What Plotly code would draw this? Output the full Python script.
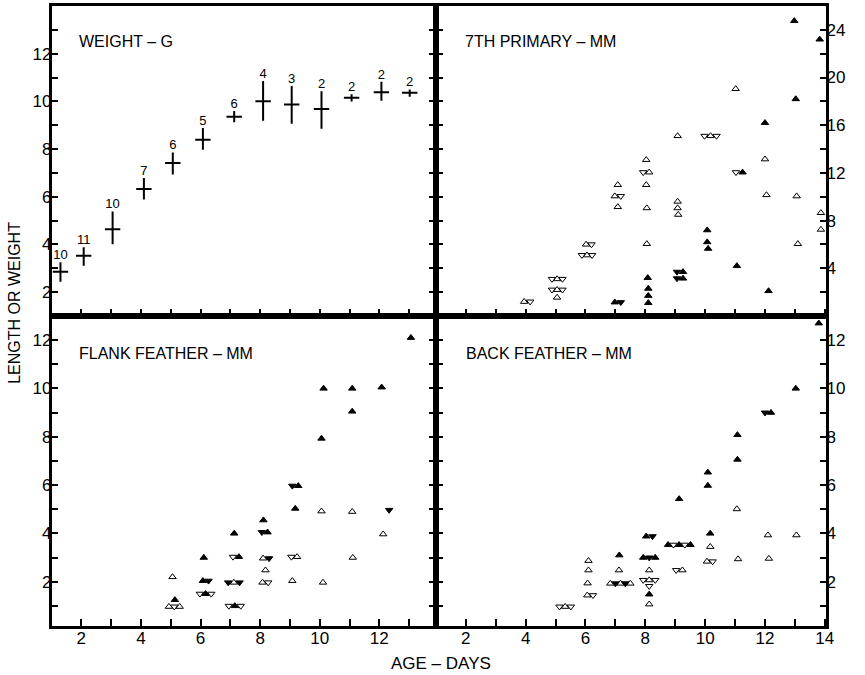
import plotly.graph_objects as go

# ---------------- DATA ----------------
# Weight (g): mean, range (high/low) and sample size per age (days)
weight_day = [1.3, 2.08, 3.05, 4.1, 5.07, 6.08, 7.13, 8.1, 9.06, 10.06, 11.07, 12.07, 13.02]
weight_mean = [2.86, 3.53, 4.64, 6.33, 7.42, 8.39, 9.36, 10.01, 9.87, 9.68, 10.15, 10.38, 10.36]
weight_high = [3.25, 3.88, 5.38, 6.79, 7.86, 8.88, 9.60, 10.85, 10.64, 10.43, 10.30, 10.82, 10.50]
weight_low = [2.44, 3.11, 4.01, 5.89, 6.93, 7.97, 9.13, 9.19, 9.06, 8.85, 9.99, 10.03, 10.19]
weight_n = [10, 11, 10, 7, 6, 5, 6, 4, 3, 2, 2, 2, 2]

# marks: ou = open up, od = open down, fu = filled up, fd = filled down
primary_day = [3.95, 4.15, 4.88, 5.05, 5.23, 4.88, 5.05, 5.23, 5.05,
               6.02, 6.2, 5.88, 6.05, 6.22,
               7.08, 6.98, 7.18, 7.08, 6.98, 7.18,
               8.03, 7.93, 8.13, 8.03, 8.05, 8.05, 8.08, 8.1, 8.1, 8.1,
               9.08, 9.08, 9.08, 9.1, 9.06, 9.26, 9.06, 9.26,
               9.98, 10.18, 10.38, 10.07, 10.07, 10.1,
               11.02, 11.03, 11.25, 11.06,
               12.0, 12.0, 12.05, 12.12,
               12.98, 13.03, 13.06, 13.1,
               13.83, 13.87, 13.87]
primary_mm = [1.2, 1.2, 3.1, 3.1, 3.1, 2.2, 2.2, 2.2, 1.55,
              6.0, 6.0, 5.1, 5.1, 5.1,
              11.0, 10.05, 10.05, 9.15, 1.15, 1.15,
              13.1, 12.05, 12.05, 11.0, 9.05, 6.05, 3.2, 2.3, 1.7, 1.1,
              15.1, 9.6, 9.05, 8.5, 3.7, 3.7, 3.15, 3.15,
              15.1, 15.1, 15.1, 7.2, 6.2, 5.65,
              19.05, 12.05, 12.05, 4.2,
              16.2, 13.15, 10.15, 2.1,
              24.75, 18.2, 10.05, 6.05,
              23.2, 8.65, 7.25]
primary_mark = ["ou", "od", "od", "ou", "od", "od", "ou", "od", "ou",
                "ou", "od", "od", "ou", "od",
                "ou", "ou", "od", "ou", "fu", "fd",
                "ou", "od", "ou", "ou", "ou", "ou", "fu", "fu", "fu", "fu",
                "ou", "ou", "ou", "ou", "fd", "fu", "fd", "fu",
                "od", "ou", "od", "fu", "fu", "fu",
                "ou", "od", "fu", "fu",
                "fu", "ou", "ou", "fu",
                "fu", "fu", "ou", "ou",
                "fu", "ou", "ou"]

flank_day = [5.06, 5.14, 4.94, 5.12, 5.3,
             6.11, 6.08, 6.27, 5.98, 6.17, 6.36,
             7.13, 7.09, 7.29, 6.93, 7.12, 7.31, 6.95, 7.15, 7.35,
             8.11, 8.06, 8.25, 8.1, 8.3, 8.18, 8.08, 8.27,
             9.08, 9.28, 9.18, 9.05, 9.24, 9.08,
             10.13, 10.06, 10.06, 10.11,
             11.09, 11.09, 11.09, 11.11,
             12.08, 12.33, 12.13,
             13.06]
flank_mm = [2.2, 1.25, 0.97, 0.97, 0.97,
            3.0, 2.04, 2.04, 1.5, 1.5, 1.5,
            4.0, 3.03, 3.03, 1.97, 1.97, 1.97, 1.0, 1.0, 1.0,
            4.55, 4.05, 4.05, 2.97, 2.97, 2.48, 1.97, 1.97,
            5.97, 5.97, 5.03, 3.03, 3.03, 2.04,
            10.0, 7.93, 4.92, 1.97,
            10.0, 9.05, 4.9, 3.0,
            10.05, 4.97, 3.97,
            12.1]
flank_mark = ["ou", "fu", "ou", "od", "ou",
              "fu", "fu", "fd", "od", "fu", "od",
              "fu", "od", "fu", "fd", "ou", "fd", "od", "fu", "od",
              "fu", "fd", "fu", "ou", "fd", "ou", "ou", "od",
              "fd", "fu", "fu", "od", "ou", "ou",
              "fu", "fu", "ou", "ou",
              "fu", "fu", "ou", "ou",
              "fu", "fd", "ou",
              "fu"]

back_day = [5.13, 5.32, 5.51,
            6.1, 6.1, 6.07, 6.06, 6.25,
            7.13, 7.12, 6.83, 7.0, 7.17, 7.33, 7.5,
            8.03, 8.24, 7.93, 8.13, 8.33, 8.13, 7.93, 8.13, 8.33, 8.13, 8.13, 8.13,
            8.76, 8.94, 9.13, 9.32, 9.51, 9.13, 9.03, 9.24,
            10.09, 10.09, 10.17, 10.17, 10.06, 10.25,
            11.08, 11.08, 11.06, 11.1,
            12.0, 12.2, 12.1, 12.13,
            13.03, 13.05,
            13.8]
back_mm = [0.97, 0.97, 0.97,
           2.87, 2.48, 1.94, 1.44, 1.44,
           3.1, 2.48, 1.93, 1.93, 1.93, 1.93, 1.93,
           3.88, 3.88, 3.0, 3.0, 3.0, 2.48, 2.07, 2.07, 2.07, 1.82, 1.48, 1.07,
           3.53, 3.53, 3.53, 3.53, 3.53, 5.43, 2.48, 2.48,
           6.53, 5.98, 4.0, 3.45, 2.84, 2.84,
           8.08, 7.06, 5.01, 2.94,
           9.0, 9.0, 3.93, 2.96,
           10.0, 3.93,
           12.7]
back_mark = ["od", "ou", "od",
             "ou", "ou", "ou", "ou", "od",
             "fu", "ou", "ou", "fd", "ou", "fd", "ou",
             "fu", "fd", "fu", "fd", "fu", "ou", "od", "ou", "od", "od", "fu", "ou",
             "fu", "od", "fu", "od", "fu", "fu", "od", "ou",
             "fu", "fu", "fu", "ou", "ou", "od",
             "fu", "fu", "ou", "ou",
             "fd", "fu", "ou", "ou",
             "fu", "ou",
             "fu"]

panel_titles = ["WEIGHT – G", "7TH PRIMARY – MM", "FLANK FEATHER – MM", "BACK FEATHER – MM"]

# ---------------- FIGURE ----------------
W, H = 865, 675
FONT = "Liberation Sans"
fig = go.Figure()

SYMBOLS = {"ou": "triangle-up-open", "od": "triangle-down-open",
           "fu": "triangle-up", "fd": "triangle-down"}


def add_marks(days, vals, marks, xa, ya):
    for code, sym in SYMBOLS.items():
        xs = [d for d, m in zip(days, marks) if m == code]
        ys = [v for v, m in zip(vals, marks) if m == code]
        if not xs:
            continue
        fig.add_trace(go.Scatter(
            x=xs, y=ys, mode="markers", xaxis=xa, yaxis=ya, showlegend=False,
            marker=dict(symbol=sym, size=6.5, color="black",
                        line=dict(color="black", width=1)),
            hoverinfo="x+y"))


# weight crosses
fig.add_trace(go.Scatter(
    x=weight_day, y=weight_mean, mode="markers", xaxis="x", yaxis="y",
    showlegend=False,
    marker=dict(symbol="line-ew", size=11, color="black",
                line=dict(color="black", width=2)),
    error_y=dict(type="data", symmetric=False,
                 array=[h - m for h, m in zip(weight_high, weight_mean)],
                 arrayminus=[m - l for m, l in zip(weight_mean, weight_low)],
                 thickness=2, width=0, color="black")))
fig.add_trace(go.Scatter(
    x=weight_day, y=weight_high, mode="text", xaxis="x", yaxis="y",
    text=[str(n) for n in weight_n], textposition="top center",
    textfont=dict(family=FONT, size=13, color="black"),
    showlegend=False, hoverinfo="skip"))

add_marks(primary_day, primary_mm, primary_mark, "x2", "y2")
add_marks(flank_day, flank_mm, flank_mark, "x3", "y3")
add_marks(back_day, back_mm, back_mark, "x4", "y4")

xl = [52 / W, 440 / W]
xr = [440 / W, 834 / W]
yt = [1 - 316 / H, 1 - 6 / H]
yb = [1 - 626 / H, 1 - 316 / H]

base = dict(showline=True, linecolor="black", linewidth=2.5, ticks="inside",
            ticklen=7, tickwidth=2, tickcolor="black", showgrid=False,
            zeroline=False, tickfont=dict(family=FONT, size=17, color="black"))


def lab(vals, step):
    return [str(v) if v % step == 0 else "" for v in vals]


xt_left = list(range(2, 14))
xt_right = list(range(2, 15))
yw = list(range(2, 14))
yp = list(range(2, 26, 2))
yf = list(range(1, 13))

ystand = dict(ticklabelstandoff=-6)
xstand = dict(ticklabelstandoff=-5)

fig.update_layout(
    width=W, height=H, margin=dict(l=0, r=0, t=0, b=0),
    paper_bgcolor="white", plot_bgcolor="white", showlegend=False,
    xaxis=dict(base, domain=xl, anchor="y", range=[1, 13.9], mirror=True,
               tickvals=xt_left, showticklabels=False),
    yaxis=dict(base, **ystand, domain=yt, anchor="x", range=[1, 14], mirror="ticks",
               tickvals=yw, ticktext=lab(yw, 2)),
    xaxis2=dict(base, domain=xr, anchor="y2", range=[1, 14.05], mirror=True,
                tickvals=xt_right, showticklabels=False),
    yaxis2=dict(base, **ystand, domain=yt, anchor="x2", side="right", range=[0, 26],
                mirror="ticks", tickvals=yp, ticktext=lab(yp, 4)),
    xaxis3=dict(base, **xstand, domain=xl, anchor="y3", range=[1, 13.9], mirror=True,
                tickvals=xt_left, ticktext=lab(xt_left, 2)),
    yaxis3=dict(base, **ystand, domain=yb, anchor="x3", range=[0.17, 13], mirror="ticks",
                tickvals=yf, ticktext=lab(yf, 2)),
    xaxis4=dict(base, **xstand, domain=xr, anchor="y4", range=[1, 14.05], mirror=True,
                tickvals=xt_right, ticktext=lab(xt_right, 2)),
    yaxis4=dict(base, **ystand, domain=yb, anchor="x4", side="right", range=[0.17, 13],
                mirror="ticks", tickvals=yf, ticktext=lab(yf, 2)),
)

title_pos = [(78, 42), (467, 42), (78, 353), (468, 353)]
for t, (px, py) in zip(panel_titles, title_pos):
    fig.add_annotation(text=t, x=px / W, y=1 - py / H, xref="paper", yref="paper",
                       xanchor="left", yanchor="middle", showarrow=False,
                       font=dict(family=FONT, size=16, color="black"))

fig.add_annotation(text="LENGTH OR WEIGHT", x=14 / W, y=1 - 303 / H,
                   xref="paper", yref="paper", textangle=-90, showarrow=False,
                   xanchor="center", yanchor="middle",
                   font=dict(family=FONT, size=16, color="black"))
fig.add_annotation(text="AGE – DAYS", x=445 / W, y=1 - 663 / H,
                   xref="paper", yref="paper", showarrow=False,
                   xanchor="center", yanchor="middle",
                   font=dict(family=FONT, size=17, color="black"))

fig.write_html("out.html", config={"displayModeBar": False},
               post_script="document.body.style.margin='0';"
                           "document.body.style.overflow='hidden';")
